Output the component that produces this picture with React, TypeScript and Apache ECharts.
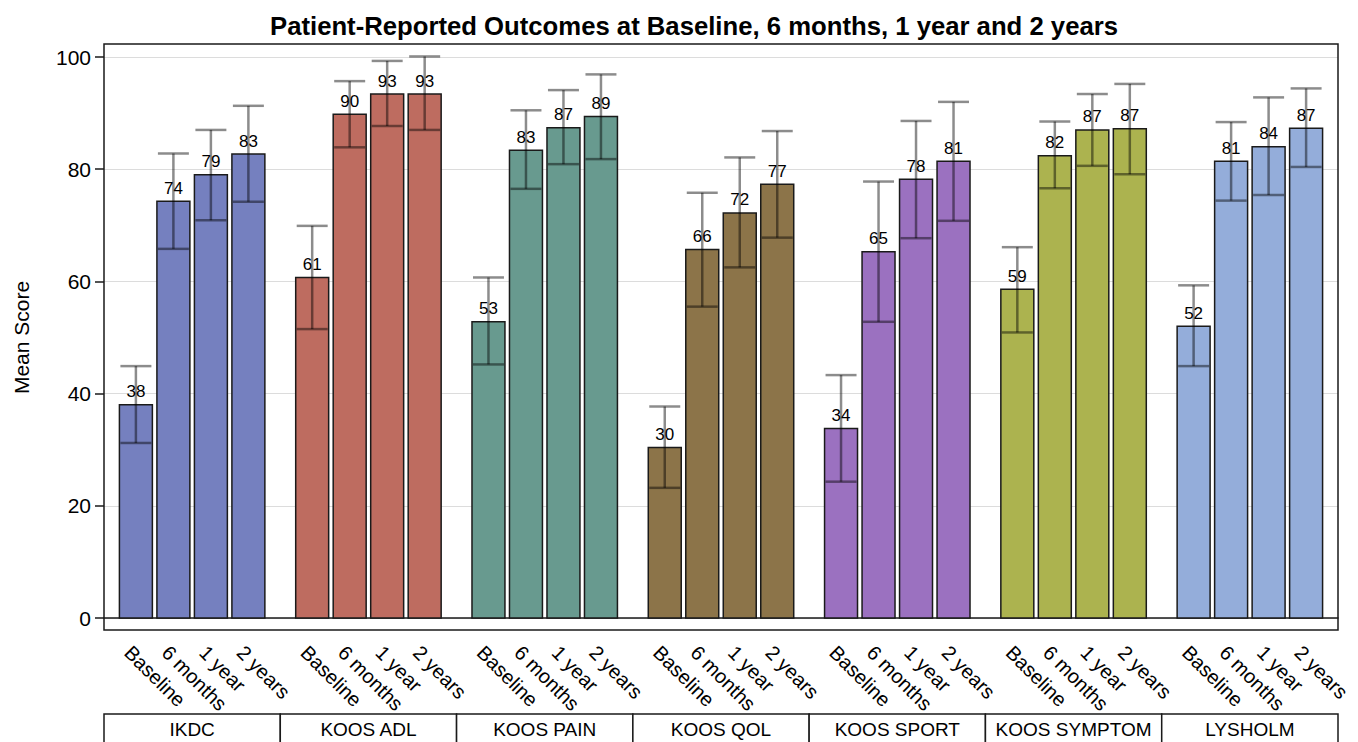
import React, { useEffect, useRef } from "react";
import * as echarts from "echarts";

const titleText = "Patient-Reported Outcomes at Baseline, 6 months, 1 year and 2 years";
const groups = ["IKDC", "KOOS ADL", "KOOS PAIN", "KOOS QOL", "KOOS SPORT", "KOOS SYMPTOM", "LYSHOLM"];
const timepoints = ["Baseline", "6 months", "1 year", "2 years"];
const groupColors = ["#7580BF", "#BE6C60", "#689A8F", "#8C7449", "#9B71C0", "#ACB34F", "#94ADDA"];
const yTicks = [0, 20, 40, 60, 80, 100];

// mean scores per instrument (Baseline, 6 months, 1 year, 2 years)
const ikdcMean = [38.0, 74.3, 79.0, 82.7];
const adlMean = [60.7, 89.8, 93.4, 93.4];
const painMean = [52.8, 83.4, 87.4, 89.4];
const qolMean = [30.4, 65.7, 72.2, 77.3];
const sportMean = [33.8, 65.3, 78.2, 81.4];
const symptomMean = [58.6, 82.4, 87.0, 87.2];
const lysholmMean = [52.0, 81.4, 84.0, 87.3];

// lower error bar bounds
const ikdcLower = [31.2, 65.8, 70.9, 74.2];
const adlLower = [51.5, 83.9, 87.7, 87.0];
const painLower = [45.2, 76.5, 80.9, 81.8];
const qolLower = [23.2, 55.5, 62.5, 67.8];
const sportLower = [24.3, 52.8, 67.7, 70.8];
const symptomLower = [50.9, 76.6, 80.6, 79.1];
const lysholmLower = [44.9, 74.4, 75.4, 80.4];

// upper error bar bounds
const ikdcUpper = [44.9, 82.8, 87.0, 91.3];
const adlUpper = [69.9, 95.7, 99.3, 100.1];
const painUpper = [60.7, 90.5, 94.1, 96.9];
const qolUpper = [37.7, 75.8, 82.1, 86.8];
const sportUpper = [43.3, 77.8, 88.6, 92.0];
const symptomUpper = [66.1, 88.5, 93.4, 95.2];
const lysholmUpper = [59.3, 88.4, 92.8, 94.4];

const means = [ikdcMean, adlMean, painMean, qolMean, sportMean, symptomMean, lysholmMean];
const lowers = [ikdcLower, adlLower, painLower, qolLower, sportLower, symptomLower, lysholmLower];
const uppers = [ikdcUpper, adlUpper, painUpper, qolUpper, sportUpper, symptomUpper, lysholmUpper];

const FONT = "'Liberation Sans', Arial, Helvetica, sans-serif";

export default function App() {
  const ref = useRef<HTMLDivElement>(null);

  useEffect(() => {
    document.body.style.margin = "0";
    if (!ref.current) return;
    const chart = echarts.init(ref.current, undefined, { renderer: "svg" });

    const barData: number[][] = [];
    groups.forEach((_, g) => {
      timepoints.forEach((_, t) => {
        barData.push([g, t, means[g][t], lowers[g][t], uppers[g][t]]);
      });
    });
    const boxData = groups.map((_, g) => [g, 0]);

    const renderBar = (params: any, api: any) => {
      const g = api.value(0);
      const t = api.value(1);
      const mean = api.value(2);
      const lo = api.value(3);
      const hi = api.value(4);
      const band = api.size([1, 0])[0];
      const base = api.coord([g, 0]);
      const step = band * 0.2127;
      const bw = band * 0.187;
      const cx = base[0] + (t - 1.5) * step;
      const yTop = api.coord([g, mean])[1];
      const yHi = api.coord([g, hi])[1];
      const yLo = api.coord([g, lo])[1];
      const capW = bw * 0.94;
      const errStyle = { stroke: "rgba(0,0,0,0.45)", lineWidth: 2.5 };
      return {
        type: "group",
        children: [
          {
            type: "rect",
            shape: { x: cx - bw / 2, y: yTop, width: bw, height: base[1] - yTop },
            style: { fill: groupColors[g], stroke: "#1a1a1a", lineWidth: 1.5 },
          },
          { type: "line", shape: { x1: cx, y1: yHi, x2: cx, y2: yLo }, style: errStyle },
          { type: "line", shape: { x1: cx - capW / 2, y1: yHi, x2: cx + capW / 2, y2: yHi }, style: errStyle },
          { type: "line", shape: { x1: cx - capW / 2, y1: yLo, x2: cx + capW / 2, y2: yLo }, style: errStyle },
          {
            type: "text",
            x: cx,
            y: yTop - 13,
            style: {
              text: String(Math.round(mean)),
              align: "center",
              verticalAlign: "middle",
              fontSize: 17,
              fontFamily: FONT,
              fill: "#000",
            },
          },
          {
            type: "text",
            x: cx - 8,
            y: 649,
            rotation: -Math.PI / 4,
            style: {
              text: timepoints[t],
              align: "left",
              verticalAlign: "middle",
              fontSize: 20,
              fontFamily: FONT,
              fill: "#000",
            },
          },
        ],
      };
    };

    const renderBox = (params: any, api: any) => {
      const g = api.value(0);
      const band = api.size([1, 0])[0];
      const c = api.coord([g, 0]);
      return {
        type: "group",
        children: [
          {
            type: "rect",
            shape: { x: c[0] - band / 2, y: 714, width: band, height: 30 },
            style: { fill: "#fff", stroke: "#1a1a1a", lineWidth: 1.5 },
          },
          {
            type: "text",
            x: c[0],
            y: 729,
            style: {
              text: groups[g],
              align: "center",
              verticalAlign: "middle",
              fontSize: 19,
              fontFamily: FONT,
              fill: "#000",
            },
          },
        ],
      };
    };

    chart.setOption({
      animation: false,
      backgroundColor: "#fff",
      title: {
        text: titleText,
        left: 689,
        top: 8,
        textAlign: "center",
        textStyle: { fontSize: 25.7, fontWeight: "bold", fontFamily: FONT, color: "#000" },
      },
      grid: { left: 104, right: 20, top: 57, bottom: 124, containLabel: false },
      xAxis: {
        type: "category",
        data: groups,
        boundaryGap: true,
        axisLine: { show: true, lineStyle: { color: "#1a1a1a", width: 1.5 } },
        axisTick: { show: false },
        axisLabel: { show: false },
        splitLine: { show: false },
      },
      yAxis: {
        type: "value",
        min: 0,
        max: 100,
        interval: 20,
        name: "Mean Score",
        nameLocation: "middle",
        nameGap: 72,
        nameTextStyle: { fontSize: 21, fontFamily: FONT, color: "#000" },
        axisLine: { show: false },
        axisTick: { show: true, length: 9, lineStyle: { color: "#1a1a1a", width: 1.5 } },
        axisLabel: {
          fontSize: 21,
          fontFamily: FONT,
          color: "#000",
          margin: 13,
          customValues: yTicks,
        },
        splitLine: { show: true, lineStyle: { color: "#dcdcdc", width: 1 } },
      },
      graphic: [
        {
          type: "rect",
          z: 100,
          shape: { x: 104, y: 44, width: 1234, height: 586 },
          style: { fill: "none", stroke: "#1a1a1a", lineWidth: 1.5 },
          silent: true,
        },
      ],
      series: [
        {
          type: "custom",
          name: "scores",
          data: barData,
          encode: { x: 0, y: [2, 3, 4] },
          renderItem: renderBar,
          clip: false,
          silent: true,
          z: 5,
        },
        {
          type: "custom",
          name: "instruments",
          data: boxData,
          encode: { x: 0, y: 1 },
          renderItem: renderBox,
          clip: false,
          silent: true,
          z: 5,
        },
      ],
    });

    return () => {
      chart.dispose();
    };
  }, []);

  return <div ref={ref} style={{ width: 1358, height: 742 }} />;
}
